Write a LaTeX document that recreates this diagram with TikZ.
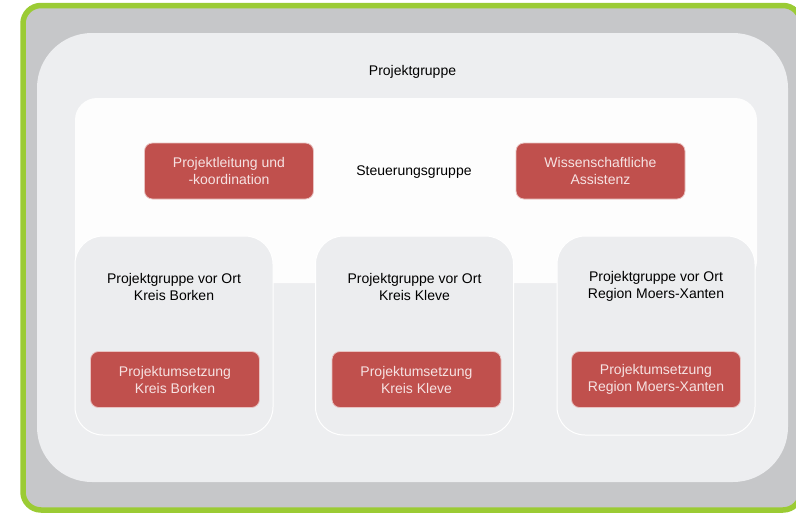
\documentclass[tikz,border=0pt]{standalone}
\usepackage{fontspec}
\setmainfont{Liberation Sans}
\usetikzlibrary{calc}

\definecolor{framegreen}{RGB}{155,203,52}
\definecolor{framegray}{RGB}{198,199,201}
\definecolor{groupgray}{RGB}{237,238,240}
\definecolor{steerwhite}{RGB}{253,253,253}
\definecolor{localgray}{RGB}{236,237,239}
\definecolor{taskred}{RGB}{192,80,77}
\definecolor{tasktext}{RGB}{246,226,226}

\tikzset{
    taskbox/.style={rectangle, rounded corners=8pt, fill=taskred, draw=taskred!35!white, line width=0.8pt, text=tasktext, minimum width=169pt, minimum height=56pt, align=center, inner sep=0pt},
    localbox/.style={rectangle, rounded corners=28pt, fill=localgray, draw=white, line width=1pt, minimum width=198pt, minimum height=199pt, inner sep=0pt},
    grouptitle/.style={text=black, align=center, inner sep=0pt}
}

\begin{document}
\begin{tikzpicture}[line cap=round,line join=round,x=1pt,y=-1pt,font=\fontsize{14}{17}\selectfont]
    \useasboundingbox (0,0) rectangle (796,512);
    \clip (0,0) rectangle (796,512);

    % Frames
    \draw (412,257.75) node[rectangle, rounded corners=18pt, fill=framegray, draw=framegreen, line width=5.5pt, minimum width=778pt, minimum height=504.5pt, inner sep=0pt] (frame) {};
    \draw (412.5,257.5) node[rectangle, rounded corners=55pt, fill=groupgray, minimum width=751pt, minimum height=449pt, inner sep=0pt] (gruppe) {};
    \draw (416,190.5) node[rectangle, rounded corners=22pt, fill=steerwhite, minimum width=682pt, minimum height=185pt, inner sep=0pt] (steuerung) {};

    % Local groups
    \draw (174,335.5) node[localbox] (borken) {};
    \draw (414.5,335.5) node[localbox] (kleve) {};
    \draw (656,335.5) node[localbox] (moers) {};

    % Titles
    \draw (412.5,72) node[grouptitle] (gruppeTitle) {Projektgruppe};
    \draw (414,172) node[grouptitle] (steuerungTitle) {Steuerungsgruppe};
    \draw (174,286.5) node[grouptitle] (borkenTitle) {Projektgruppe vor Ort\\Kreis Borken};
    \draw (414.5,286.5) node[grouptitle] (kleveTitle) {Projektgruppe vor Ort\\Kreis Kleve};
    \draw (656,286.5) node[grouptitle] (moersTitle) {Projektgruppe vor Ort\\Region Moers-Xanten};

    % Tasks
    \draw (229,171) node[taskbox] (leitung) {Projektleitung und\\-koordination};
    \draw (600.5,171) node[taskbox] (assistenz) {Wissenschaftliche\\Assistenz};
    \draw (175,379.5) node[taskbox] (borkenTask) {Projektumsetzung\\Kreis Borken};
    \draw (416.5,379.5) node[taskbox] (kleveTask) {Projektumsetzung\\Kreis Kleve};
    \draw (656,379.5) node[taskbox] (moersTask) {Projektumsetzung\\Region Moers-Xanten};
\end{tikzpicture}
\end{document}
